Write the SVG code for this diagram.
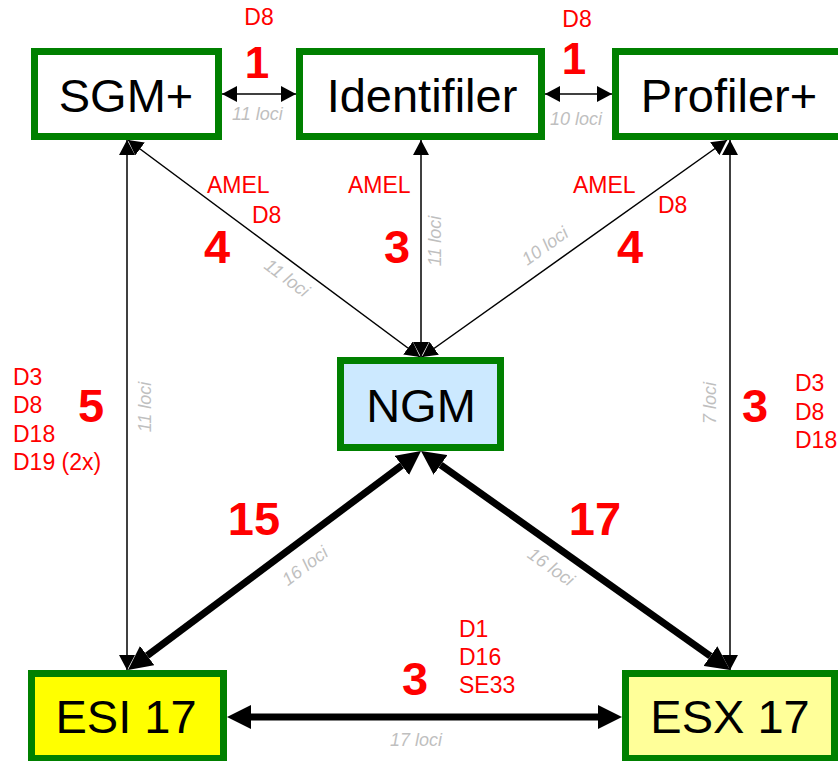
<svg xmlns="http://www.w3.org/2000/svg" width="838" height="761" viewBox="0 0 838 761">
<defs>
<style>
.box{stroke:#008000;stroke-width:7}
.lbl{font-family:"Liberation Sans",Arial,sans-serif;font-size:47px;fill:#000;text-anchor:middle}
.red{font-family:"Liberation Sans",Arial,sans-serif;font-size:23px;fill:#FF0000}
.big{font-family:"Liberation Sans",Arial,sans-serif;font-size:47px;font-weight:bold;fill:#FF0000;text-anchor:middle}
.top1{font-size:44px}
.loci{font-family:"Liberation Sans",Arial,sans-serif;font-size:18px;font-style:italic;fill:#BFBFBF}
.mid{text-anchor:middle}
.thin{stroke:#000;stroke-width:1.5;fill:none;marker-start:url(#ah);marker-end:url(#ah)}
.thick{stroke:#000;stroke-width:7;fill:none;marker-start:url(#ahb);marker-end:url(#ahb)}
</style>
<marker id="ah" markerUnits="userSpaceOnUse" markerWidth="15" markerHeight="16" viewBox="0 0 15 16" refX="15" refY="8" orient="auto-start-reverse">
<path d="M0,0 L15,8 L0,16 z" fill="#000"/>
</marker>
<marker id="ahb" markerUnits="userSpaceOnUse" markerWidth="24" markerHeight="24" viewBox="0 0 24 24" refX="0" refY="12" orient="auto-start-reverse">
<path d="M0,0 L24,12 L0,24 z" fill="#000"/>
</marker>
</defs>
<rect width="838" height="761" fill="#fff"/>
<g id="connectors">
<line class="thin" x1="222" y1="94" x2="296" y2="94"/>
<line class="thin" x1="545" y1="94" x2="612" y2="94"/>
<line class="thin" x1="128" y1="140" x2="420" y2="357"/>
<line class="thin" x1="421" y1="140" x2="421" y2="357"/>
<line class="thin" x1="727" y1="140" x2="422" y2="357"/>
<line class="thin" x1="127" y1="140" x2="127" y2="670"/>
<line class="thin" x1="730" y1="140" x2="730" y2="670"/>
<line class="thick" x1="401.8" y1="465.4" x2="147.2" y2="655.6"/>
<line class="thick" x1="440.6" y1="464.9" x2="710.4" y2="656.1"/>
<line class="thick" x1="251" y1="717" x2="598" y2="717"/>
</g>
<g id="SGM">
<rect class="box" x="34.5" y="51.5" width="184" height="85" fill="#fff"/>
<text class="lbl" x="126" y="112">SGM+</text>
</g>
<g id="Identifiler">
<rect class="box" x="299.5" y="51.5" width="242" height="85" fill="#fff"/>
<text class="lbl" x="422" y="112">Identifiler</text>
</g>
<g id="Profiler">
<rect class="box" x="615.5" y="51.5" width="228" height="85" fill="#fff"/>
<text class="lbl" x="729" y="112">Profiler+</text>
</g>
<g id="NGM">
<rect class="box" x="340.5" y="360.5" width="160" height="87" fill="#CCE9FF"/>
<text class="lbl" x="421" y="422">NGM</text>
</g>
<g id="ESI17">
<rect class="box" x="31.5" y="673.5" width="192" height="85" fill="#FFFF00"/>
<text class="lbl" x="126" y="733">ESI 17</text>
</g>
<g id="ESX17">
<rect class="box" x="625.5" y="673.5" width="209" height="85" fill="#FFFF99"/>
<text class="lbl" x="730" y="733">ESX 17</text>
</g>
<g id="labels">
<text class="red mid" x="259" y="25">D8</text>
<text class="big top1" x="257" y="78">1</text>
<text class="red mid" x="577" y="27">D8</text>
<text class="big top1" x="574" y="74">1</text>
<text class="loci" x="232" y="120">11 loci</text>
<text class="loci" x="550" y="125">10 loci</text>
<text class="red" x="207" y="193">AMEL</text>
<text class="red" x="252" y="223">D8</text>
<text class="big" x="217" y="263">4</text>
<text class="red" x="348" y="193">AMEL</text>
<text class="big" x="397" y="263">3</text>
<text class="red" x="573" y="193">AMEL</text>
<text class="red" x="658" y="213">D8</text>
<text class="big" x="630" y="263">4</text>
<text class="loci mid" transform="translate(287,278) rotate(36.5)" y="6">11 loci</text>
<text class="loci mid" transform="translate(435,241) rotate(-90)" y="6">11 loci</text>
<text class="loci mid" transform="translate(545,246) rotate(-35.4)" y="6">10 loci</text>
<text class="red" x="13" y="385">D3</text>
<text class="red" x="13" y="413">D8</text>
<text class="red" x="13" y="442">D18</text>
<text class="red" x="13" y="470">D19 (2x)</text>
<text class="big" x="91" y="422">5</text>
<text class="loci mid" transform="translate(145,407) rotate(-90)" y="6">11 loci</text>
<text class="loci mid" transform="translate(710,403) rotate(-90)" y="6">7 loci</text>
<text class="big" x="755" y="422">3</text>
<text class="red" x="795" y="391">D3</text>
<text class="red" x="795" y="420">D8</text>
<text class="red" x="795" y="448">D18</text>
<text class="big" x="254" y="535">15</text>
<text class="big" x="595" y="535">17</text>
<text class="loci mid" transform="translate(305,566) rotate(-36.8)" y="6">16 loci</text>
<text class="loci mid" transform="translate(551,567) rotate(35.3)" y="6">16 loci</text>
<text class="red" x="459" y="637">D1</text>
<text class="red" x="459" y="665">D16</text>
<text class="red" x="459" y="693">SE33</text>
<text class="big" x="415" y="695">3</text>
<text class="loci" x="390" y="746">17 loci</text>
</g>
</svg>
